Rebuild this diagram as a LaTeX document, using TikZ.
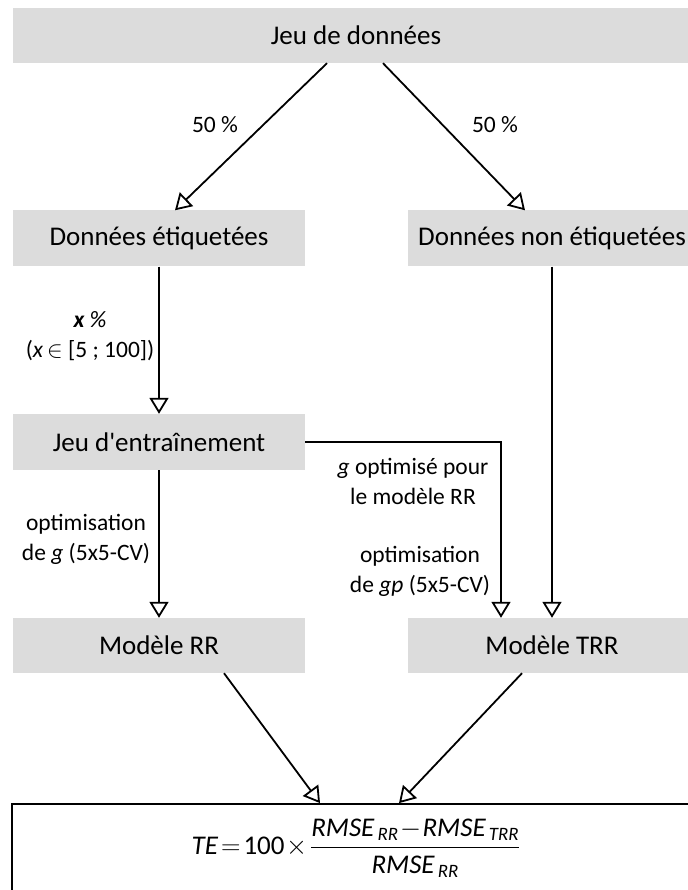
\documentclass[tikz,border=0pt]{standalone}
\usepackage{fix-cm}
\usepackage{amsmath}
\usepackage{fontspec}
\setmainfont{Carlito}[Ligatures=TeXOff]
\usetikzlibrary{arrows.meta,calc}
\definecolor{boxgray}{HTML}{DCDCDC}
\begin{document}
\begin{tikzpicture}[x=1pt,y=-1pt,
  box/.style={fill=boxgray, text=black, minimum width=292pt, minimum height=56pt,
    inner sep=0pt, font=\fontsize{27}{32}\selectfont},
  lbl/.style={font=\fontsize{23.5}{30}\selectfont, align=center, inner sep=0pt},
  flow/.style={line width=1.8pt, -{Triangle[open,length=16pt,width=19pt]}},
]
\useasboundingbox (0,0) rectangle (687,890);

% boxes
\node[box, minimum width=686pt, minimum height=55pt] (top) at (356,35.5) {Jeu de données};
\node[box] (deL) at (159,238.5) {Données étiquetées};
\node[box, minimum width=288pt] (deR) at (552,238.5) {Données non étiquetées};
\node[box] (jeu) at (159,442) {Jeu d'entraînement};
\node[box, minimum height=55pt] (mRR) at (159,645.5) {Modèle RR};
\node[box, minimum width=288pt, minimum height=55pt] (mTRR) at (552,645.5) {Modèle TRR};
\node[draw, line width=1.8pt, minimum width=688pt, minimum height=88pt, inner sep=0pt,
  font=\fontsize{27}{31}\selectfont] (te) at (356,848)
  {$\textit{TE}\mskip2mu{=}\mskip2mu\text{100}\mskip1mu{\times}\mskip2mu\dfrac{\textit{RMSE}_{\,\textit{RR}}\mskip1mu{-}\mskip1mu\textit{RMSE}_{\,\textit{TRR}}}{\textit{RMSE}_{\,\textit{RR}}}$};

% edge labels
\node[lbl] (l50a) at (215,125) {50 \%};
\node[lbl] (l50b) at (495,125) {50 \%};
\node[lbl] (lx) at (90,336) {\textit{\textbf{x} \%}\\(\textit{x}\,$\in$ [5 ; 100])};
\node[lbl] (lg) at (86,539) {optimisation\\de \textit{g} (5x5-CV)};
\node[lbl] (lgo) at (413,481) {\textit{g} optimisé pour\\le modèle RR};
\node[lbl] (lgp) at (420,571) {optimisation\\de \textit{gp} (5x5-CV)};

% connectors
\draw[flow] ([xshift=-29pt]top.south) -- ([xshift=16pt]deL.north);
\draw[flow] ([xshift=27pt]top.south) -- ([xshift=-27pt]deR.north);
\draw[flow] (deL.south) -- (jeu.north);
\draw[flow] (deR.south) -- (mTRR.north);
\draw[flow] (jeu.south) -- (mRR.north);
\draw[flow] (jeu.east) -| ([xshift=-51pt]mTRR.north);
\draw[flow] ([xshift=65pt]mRR.south) -- ([xshift=-36pt]te.north);
\draw[flow] ([xshift=-30pt]mTRR.south) -- ([xshift=43pt]te.north);
\end{tikzpicture}
\end{document}
